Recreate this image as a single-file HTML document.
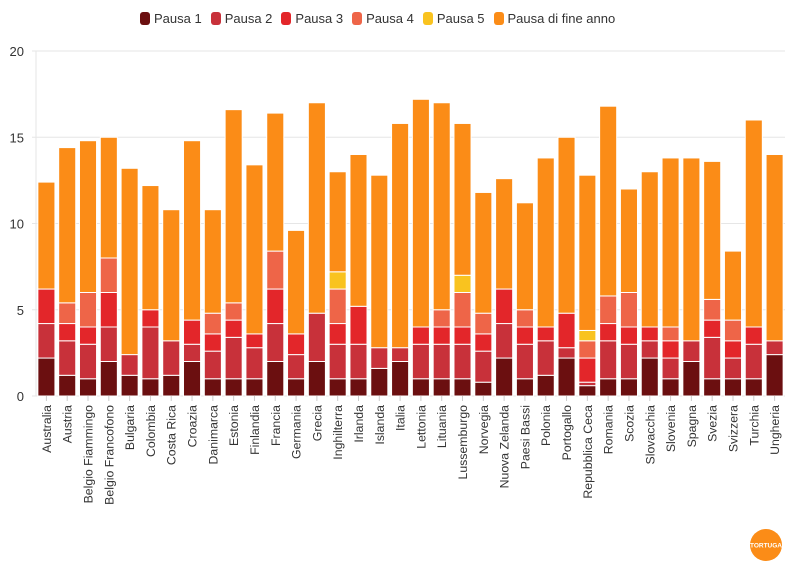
<!DOCTYPE html>
<html><head><meta charset="utf-8"><style>
body{margin:0;background:#fff;font-family:"Liberation Sans",sans-serif;}
#wrap{position:relative;width:796px;height:575px;overflow:hidden;}
#legend{position:absolute;left:140px;top:11px;display:flex;gap:9px;font-size:13px;color:#333;}
.li{display:flex;align-items:center;gap:4px;}
.sw{width:10px;height:13px;border-radius:3px;display:inline-block;}
</style></head><body>
<div id="wrap">
<div id="legend">
<div class="li"><span class="sw" style="background:#6b0f10"></span>Pausa 1</div>
<div class="li"><span class="sw" style="background:#c8313a"></span>Pausa 2</div>
<div class="li"><span class="sw" style="background:#e3262a"></span>Pausa 3</div>
<div class="li"><span class="sw" style="background:#ee6548"></span>Pausa 4</div>
<div class="li"><span class="sw" style="background:#f9c31f"></span>Pausa 5</div>
<div class="li"><span class="sw" style="background:#fb8c17"></span>Pausa di fine anno</div>
</div>
<svg id="chart" width="796" height="575"></svg>
<svg style="position:absolute;left:749px;top:528px" width="34" height="34">
<circle cx="17" cy="17" r="16" fill="#fb8c17"/>
<text x="17" y="19.5" font-size="6.5" font-weight="bold" fill="#fff" text-anchor="middle" font-family="Liberation Sans">TORTUGA</text>
</svg>
</div>
<script>
const categories=["Australia","Austria","Belgio Fiammingo","Belgio Francofono","Bulgaria","Colombia","Costa Rica","Croazia","Danimarca","Estonia","Finlandia","Francia","Germania","Grecia","Inghilterra","Irlanda","Islanda","Italia","Lettonia","Lituania","Lussemburgo","Norvegia","Nuova Zelanda","Paesi Bassi","Polonia","Portogallo","Repubblica Ceca","Romania","Scozia","Slovacchia","Slovenia","Spagna","Svezia","Svizzera","Turchia","Ungheria"];
const pausa1=[2.2,1.2,1,2,1.2,1,1.2,2,1,1,1,2,1,2,1,1,1.6,2,1,1,1,0.8,2.2,1,1.2,2.2,0.6,1,1,2.2,1,2,1,1,1,2.4];
const pausa2=[2,2,2,2,1.2,3,2,1,1.6,2.4,1.8,2.2,1.4,2.8,2,2,1.2,0.8,2,2,2,1.8,2,2,2,0.6,0.2,2.2,2,1,1.2,1.2,2.4,1.2,2,0.8];
const pausa3=[2,1,1,2,0,1,0,1.4,1,1,0.8,2,1.2,0,1.2,2.2,0,0,1,1,1,1,2,1,0.8,2,1.4,1,1,0.8,1,0,1,1,1,0];
const pausa4=[0,1.2,2,2,0,0,0,0,1.2,1,0,2.2,0,0,2,0,0,0,0,1,2,1.2,0,1,0,0,1,1.6,2,0,0.8,0,1.2,1.2,0,0];
const pausa5=[0,0,0,0,0,0,0,0,0,0,0,0,0,0,1,0,0,0,0,0,1,0,0,0,0,0,0.6,0,0,0,0,0,0,0,0,0];
const fineAnno=[6.2,9,8.8,7,10.8,7.2,7.6,10.4,6,11.2,9.8,8,6,12.2,5.8,8.8,10,13,13.2,12,8.8,7,6.4,6.2,9.8,10.2,9,11,6,9,9.8,10.6,8,4,12,10.8];
const yTicks=[0,5,10,15,20];
const series=[["pausa-1",pausa1,"#6b0f10"],["pausa-2",pausa2,"#c8313a"],["pausa-3",pausa3,"#e3262a"],["pausa-4",pausa4,"#ee6548"],["pausa-5",pausa5,"#f9c31f"],["pausa-fine-anno",fineAnno,"#fb8c17"]];
const NS="http://www.w3.org/2000/svg",svg=document.getElementById("chart");
const x0=36,x1=785,yB=396,yT=51,yMax=20;
const step=(x1-x0)/categories.length,bw=step*0.82;
const y=v=>yB-(v/yMax)*(yB-yT);
const xc=i=>x0+step*(i+0.5);
function mk(t,a){const e=document.createElementNS(NS,t);for(const k in a)e.setAttribute(k,a[k]);svg.appendChild(e);return e;}
yTicks.forEach(t=>{
 const g=mk("line",{x1:x0-4,x2:x1,y1:y(t),y2:y(t),stroke:"#e6e6e6","stroke-width":1});
 
 
 const tx=mk("text",{x:24,y:y(t)+5,"text-anchor":"end","font-size":13,fill:"#333"});
 tx.textContent=t;
 
 
});
mk("line",{x1:x0,x2:x0,y1:yT,y2:yB,stroke:"#e6e6e6"});
categories.forEach((c,i)=>{
 let cum=0;
 series.forEach(s=>{
  const v=s[1][i];if(!v)return;
  const r=mk("rect",{x:xc(i)-bw/2,y:y(cum+v),width:bw,height:y(cum)-y(cum+v),fill:s[2],stroke:"#fff","stroke-width":1});
  
  
  cum+=v;
 });
 const tk=mk("line",{x1:xc(i),x2:xc(i),y1:yB,y2:yB+5,stroke:"#ccc"});
 const t=mk("text",{transform:`translate(${xc(i)+4.5},${yB+9}) rotate(-90)`,"text-anchor":"end","font-size":12.3,fill:"#333"});
 t.textContent=c;
 
 
});
</script>
</body></html>
